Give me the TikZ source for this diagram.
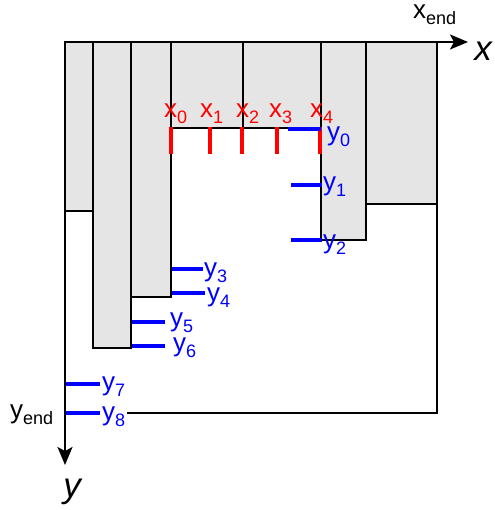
\documentclass[tikz,border=0pt]{standalone}
\usepackage{fontspec}
\setmainfont{Liberation Sans}
\usetikzlibrary{arrows.meta}

% letter with a lowered index
\newcommand{\lbl}[2]{#1\raisebox{-6pt}{\fontsize{18}{18}\selectfont #2}}

\begin{document}
\begin{tikzpicture}[
      x=1pt, y=-1pt,
      every node/.style={font=\fontsize{26}{30}\selectfont, inner sep=0pt},
      col/.style={draw, line width=1.8pt, fill=gray!20},
      frame/.style={line width=1.8pt},
      axis/.style={line width=2pt, -{Stealth[length=18pt, width=15pt, inset=4pt]}},
      xtick/.style={red, line width=3.5pt},
      ytick/.style={blue, line width=3.5pt},
      xlab/.style={text=red, anchor=base west},
      ylab/.style={text=blue, anchor=base west},
      axlab/.style={font=\fontsize{35}{40}\selectfont\itshape}
    ]
    \useasboundingbox (0,0) rectangle (494,510);

    % Columns hanging from the top edge
    \foreach \xa/\xb/\yb in {65/93/211, 93/131/348, 131/171/297, 171/243/128,
                             243/321/128, 321/366/240, 366/437/204}{
      \draw[col] (\xa,42) rectangle (\xb,\yb);
    }

    % Outer frame
    \coordinate (corner) at (437,413);
    \draw[frame] (437,204) -- (corner) -- (127,413);

    % Axes
    \coordinate (o)    at (65,42);
    \coordinate (xtip) at (468,42);
    \coordinate (ytip) at (65,465);
    \draw[axis] (o) -- (xtip);
    \draw[axis] (o) -- (ytip);
    \node[anchor=base west] (xend) at (413,19) {\lbl{x}{end}};
    \node[anchor=base west] (yend) at (10,418) {\lbl{y}{end}};
    \node[axlab] (xaxis) at (483,51) {x};
    \node[axlab] (yaxis) at (72,492) {y};

    % Red marks x0..x4
    \foreach \i/\x/\lx in {0/171/164, 1/210/200, 2/242/236, 3/277/269, 4/320/310}{
      \draw[xtick] (\x,127) -- (\x,154);
      \node[xlab] (x\i) at (\lx,118) {\lbl{x}{\i}};
    }

    % Blue marks y0..y8
    \foreach \i/\xa/\xb/\y/\lx/\ly in {0/288/321/129/327/141, 1/291/322/185/323/191,
        2/291/322/240/323/248, 3/172/203/269/204/276, 4/172/205/293/207/301,
        5/132/165/322/170/326, 6/132/165/346/173/351, 7/66/100/384/102/390,
        8/66/100/413/102/420}{
      \draw[ytick] (\xa,\y) -- (\xb,\y);
      \node[ylab] (y\i) at (\lx,\ly) {\lbl{y}{\i}};
    }
  \end{tikzpicture}
\end{document}
